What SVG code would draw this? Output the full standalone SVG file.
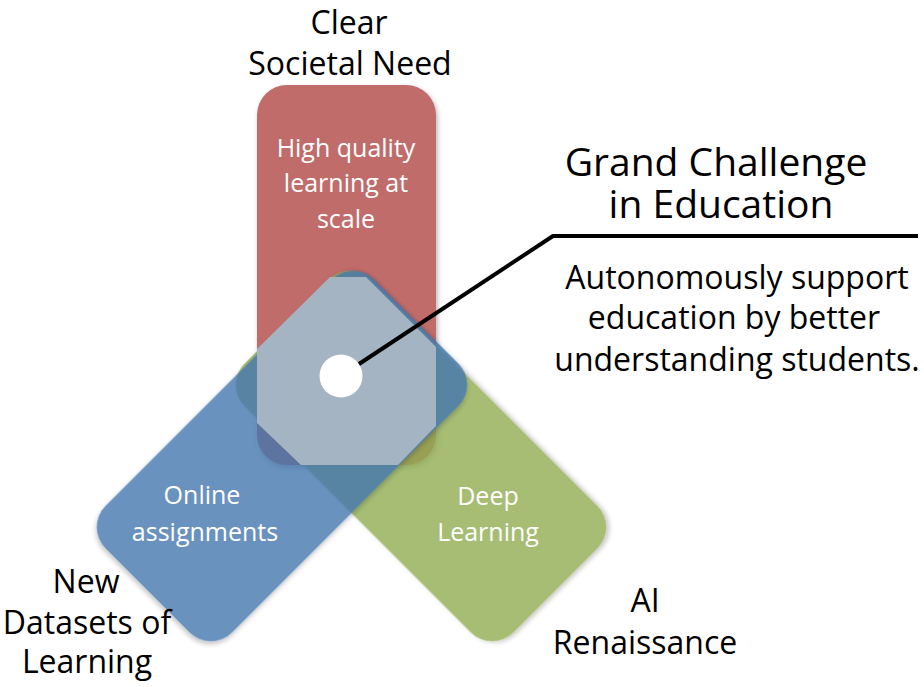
<svg xmlns="http://www.w3.org/2000/svg" width="924" height="687" viewBox="0 0 924 687">
  <defs>
    <filter id="shadow" x="-20%" y="-20%" width="140%" height="140%">
      <feDropShadow dx="1.5" dy="2.5" stdDeviation="2.5" flood-color="#000" flood-opacity="0.3"/>
    </filter>
    <!-- one rounded bar, centred on the origin, reused for all three domains -->
    <rect id="bar" x="-89.5" y="-190" width="179" height="380" rx="30" ry="30"/>
  </defs>
  <style>
    .lbl { font-family: "Open Sans", "Noto Sans", "Liberation Sans", sans-serif; fill: #000; text-anchor: middle; }
    .in { font-family: "Open Sans", "Noto Sans", "Liberation Sans", sans-serif; fill: #fff; text-anchor: middle; font-size: 25px; }
    .outer { font-size: 32px; }
    .head { font-size: 39px; }
    .body { font-size: 32px; }
    .wire { fill: none; stroke: #000; stroke-width: 4; stroke-linejoin: round; }
  </style>
  <rect width="924" height="687" fill="#fff"/>

  <!-- societal need (vertical bar) -->
  <g id="node-need">
    <rect x="257" y="85" width="179" height="380" rx="30" ry="30" fill="#C06C6A" filter="url(#shadow)"/>
    <text class="in" x="346" y="157">High quality</text>
    <text class="in" x="346" y="192">learning at</text>
    <text class="in" x="346" y="228">scale</text>
    <text class="lbl outer" x="349" y="34">Clear</text>
    <text class="lbl outer" x="350" y="75">Societal Need</text>
  </g>

  <!-- AI renaissance (bar tilted to the lower right) -->
  <g id="node-ai">
    <use href="#bar" transform="translate(421 456) rotate(-45)" fill="#90AD51" opacity="0.8" filter="url(#shadow)"/>
    <text class="in" x="488" y="505">Deep</text>
    <text class="in" x="488" y="541">Learning</text>
    <text class="lbl outer" x="645" y="612">AI</text>
    <text class="lbl outer" x="645" y="654">Renaissance</text>
  </g>

  <!-- new datasets (bar tilted to the lower left) -->
  <g id="node-data">
    <use href="#bar" transform="translate(282 456) rotate(45)" fill="#4577AF" opacity="0.8" filter="url(#shadow)"/>
    <text class="in" x="202" y="504">Online</text>
    <text class="in" x="205" y="541">assignments</text>
    <text class="lbl outer" x="86" y="593">New</text>
    <text class="lbl outer" x="87" y="634">Datasets of</text>
    <text class="lbl outer" x="87" y="673">Learning</text>
  </g>

  <!-- shared centre: the grand challenge -->
  <g id="node-challenge">
    <polygon points="330,277 366,277 436,347 436,426 398,465 301,465 257,423 257,349" fill="#A5B4C2"/>
    <circle cx="341" cy="376" r="21.5" fill="#fff"/>
    <text class="lbl head" x="716" y="176">Grand Challenge</text>
    <text class="lbl head" x="721" y="218">in Education</text>
    <text class="lbl body" x="737" y="289">Autonomously support</text>
    <text class="lbl body" x="734" y="329">education by better</text>
    <text class="lbl body" x="737" y="371">understanding students.</text>
  </g>

  <!-- callout from the centre to the heading -->
  <g id="connectors">
    <polyline class="wire" points="359,364 553,236 918,236"/>
  </g>
</svg>
